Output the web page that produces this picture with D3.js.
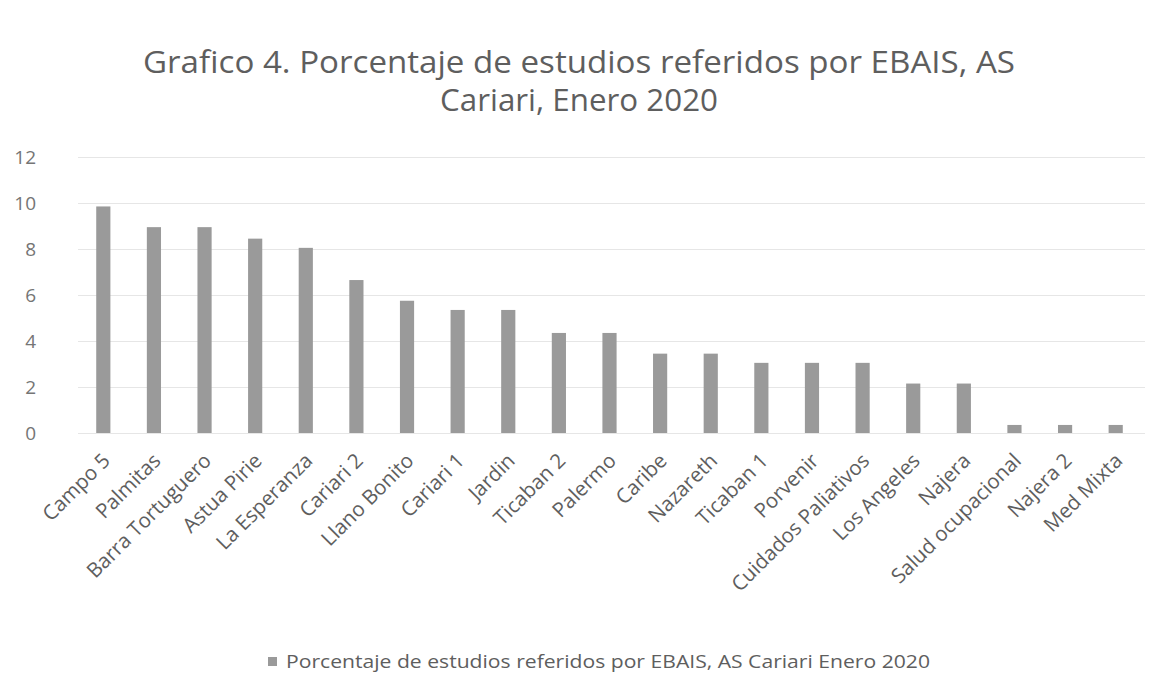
<!DOCTYPE html>
<html>
<head>
<meta charset="utf-8">
<script src="https://cdn.jsdelivr.net/npm/d3@7"></script>
<style>
  html, body { margin: 0; padding: 0; background: #ffffff; }
  svg { display: block; }
</style>
</head>
<body>
<svg id="chart" width="1159" height="675"></svg>
<script>
const titleLines = ["Grafico 4. Porcentaje de estudios referidos por EBAIS, AS", "Cariari, Enero 2020"];
const categories = ["Campo 5", "Palmitas", "Barra Tortuguero", "Astua Pirie", "La Esperanza", "Cariari 2",
  "Llano Bonito", "Cariari 1", "Jardin", "Ticaban 2", "Palermo", "Caribe", "Nazareth", "Ticaban 1",
  "Porvenir", "Cuidados Paliativos", "Los Angeles", "Najera", "Salud ocupacional", "Najera 2", "Med Mixta"];
const values = [9.85, 8.95, 8.95, 8.45, 8.05, 6.65, 5.75, 5.35, 5.35, 4.35, 4.35, 3.45, 3.45, 3.05,
  3.05, 3.05, 2.15, 2.15, 0.35, 0.35, 0.35];
const yTicks = [0, 2, 4, 6, 8, 10, 12];
const legendLabel = "Porcentaje de estudios referidos por EBAIS, AS Cariari Enero 2020";

const FONT = "'Open Sans', 'DejaVu Sans', sans-serif";
const svg = d3.select("#chart").style("font-family", FONT);

const plotLeft = 78, plotRight = 1141, plotTop = 157, plotBottom = 433;
const x = d3.scaleBand().domain(categories).range([plotLeft, plotRight]).paddingInner(0.72).paddingOuter(0.36);
const y = d3.scaleLinear().domain([0, 12]).range([plotBottom, plotTop]);

// title
svg.append("g").selectAll("text").data(titleLines).join("text")
  .attr("x", 579).attr("y", (d, i) => 73 + i * 38)
  .attr("text-anchor", "middle")
  .attr("fill", "#5e5e5e")
  .style("font-size", "31px")
  .attr("textLength", (d, i) => i === 0 ? 872 : 278)
  .attr("lengthAdjust", "spacingAndGlyphs")
  .text(d => d);

// y axis + gridlines
const yAxis = svg.append("g").attr("transform", `translate(${plotLeft},0)`)
  .call(d3.axisLeft(y).tickValues(yTicks).tickFormat(d3.format("d")).tickSize(-(1145 - plotLeft)).tickPadding(42));
yAxis.select(".domain").remove();
yAxis.selectAll(".tick line").attr("stroke", "#e6e6e6").attr("stroke-width", 1);
yAxis.selectAll(".tick text").attr("fill", "#757575").style("font-size", "19px").style("font-family", FONT);

// bars
svg.append("g").selectAll("rect").data(categories).join("rect")
  .attr("x", d => x(d))
  .attr("width", x.bandwidth())
  .attr("y", (d, i) => y(values[i]))
  .attr("height", (d, i) => y(0) - y(values[i]))
  .attr("fill", "#9a9a9a");

// x axis labels
const xAxis = svg.append("g").attr("transform", `translate(0,${plotBottom})`)
  .call(d3.axisBottom(x).tickSize(0).tickPadding(0));
xAxis.select(".domain").remove();
xAxis.selectAll(".tick text")
  .attr("y", 0).attr("dy", "0")
  .attr("text-anchor", "end")
  .attr("transform", "translate(8,29) rotate(-45)")
  .attr("fill", "#5e5e5e")
  .style("font-size", "20.5px")
  .style("font-family", FONT);

// legend
const lg = svg.append("g");
lg.append("rect").attr("x", 268).attr("y", 657).attr("width", 9).attr("height", 9).attr("fill", "#9a9a9a");
lg.append("text").attr("x", 286).attr("y", 668)
  .attr("fill", "#5e5e5e").style("font-size", "18.5px")
  .attr("textLength", 644).attr("lengthAdjust", "spacingAndGlyphs")
  .text(legendLabel);
</script>
</body>
</html>
